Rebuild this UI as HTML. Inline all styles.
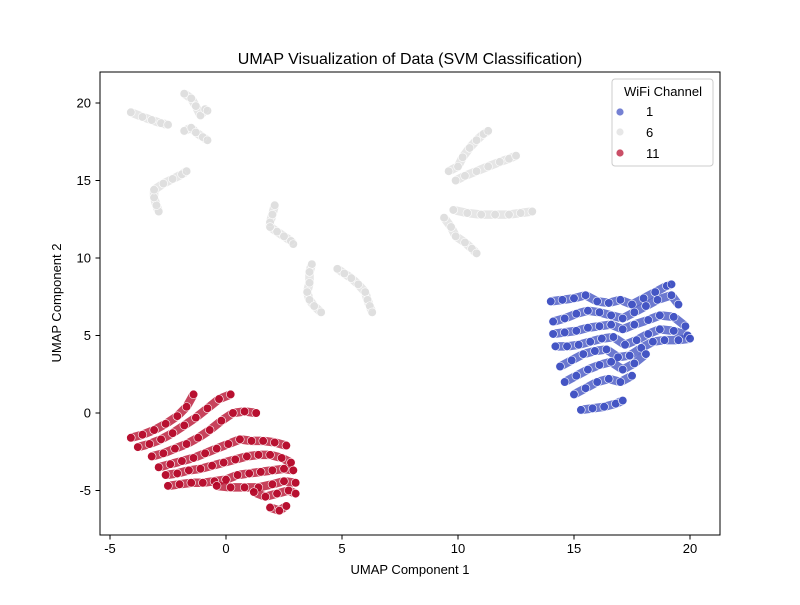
<!DOCTYPE html>
<html><head><meta charset="utf-8"><style>
body{margin:0;background:#fff;}
svg{font-family:"Liberation Sans","DejaVu Sans",sans-serif;}
</style></head><body>
<svg id="chart" width="800" height="600" viewBox="0 0 800 600">
<rect width="800" height="600" fill="#fff"/>
<g id="marks"></g>
<rect x="100" y="72" width="620" height="463" fill="none" stroke="#000" stroke-width="1"/>
<g id="axes"></g>
<text x="410" y="64" text-anchor="middle" font-size="16">UMAP Visualization of Data (SVM Classification)</text>
<text x="410" y="574" text-anchor="middle" font-size="13">UMAP Component 1</text>
<text x="61" y="303" text-anchor="middle" font-size="13" transform="rotate(-90 61 303)">UMAP Component 2</text>
<g>
<rect x="612" y="79" width="101" height="87" rx="3" fill="#fff" fill-opacity="0.8" stroke="#ccc"/>
<text x="663" y="96" text-anchor="middle" font-size="13">WiFi Channel</text>
<g><circle cx="620" cy="112" r="4" fill="#3b4cc0" fill-opacity="0.7" stroke="#fff" stroke-width="0.8"/><text x="646" y="116" font-size="13">1</text></g>
<g><circle cx="620" cy="132" r="4" fill="#dddddd" fill-opacity="0.7" stroke="#fff" stroke-width="0.8"/><text x="646" y="137" font-size="13">6</text></g>
<g><circle cx="620" cy="153" r="4" fill="#b40426" fill-opacity="0.7" stroke="#fff" stroke-width="0.8"/><text x="646" y="158" font-size="13">11</text></g>
</g>
</svg>
<script>
const xTicks=[-5,0,5,10,15,20];
const yTicks=[-5,0,5,10,15,20];
const grayStrands=[
[[-4.1,19.4],[-3.6,19.1],[-3.2,18.9],[-2.8,18.7],[-2.5,18.6]],
[[-1.8,20.6],[-1.5,20.3],[-1.3,19.8],[-1.1,19.2],[-0.9,19.6],[-0.8,19.5]],
[[-1.8,18.2],[-1.5,18.4],[-1.3,18.1],[-1.0,17.8],[-0.8,17.6]],
[[-2.9,13.0],[-3.0,13.4],[-3.1,13.9],[-3.1,14.4],[-2.7,14.8],[-2.3,15.1],[-1.9,15.4],[-1.7,15.6]],
[[2.1,13.4],[2.0,12.8],[1.9,12.3],[1.9,12.0],[2.2,11.7],[2.5,11.4],[2.8,11.1],[2.9,10.9]],
[[3.7,9.6],[3.6,9.1],[3.6,8.4],[3.5,7.8],[3.6,7.3],[3.8,6.9],[4.1,6.5]],
[[4.8,9.3],[5.1,9.0],[5.4,8.7],[5.7,8.3],[6.0,7.8],[6.1,7.3],[6.2,6.9],[6.3,6.5]],
[[9.6,15.6],[10.0,15.9],[10.2,16.5],[10.5,17.1],[10.8,17.6],[11.1,18.0],[11.3,18.2]],
[[9.9,15.0],[10.3,15.3],[10.8,15.6],[11.3,15.9],[11.8,16.2],[12.2,16.4],[12.5,16.6]],
[[9.8,13.1],[10.4,12.9],[11.0,12.8],[11.6,12.8],[12.2,12.8],[12.7,12.9],[13.2,13.0]],
[[9.4,12.6],[9.7,12.0],[9.9,11.4],[10.3,11.0],[10.6,10.6],[10.8,10.3]]
];
const blueStrands=[
[[14,7.2],[14.5,7.3],[15,7.4],[15.5,7.6],[16,7.2],[16.5,7.1],[17,7.3],[17.5,7.0],[18,7.4],[18.5,7.8],[19,8.2],[19.2,8.3]],
[[14.1,5.9],[14.6,6.1],[15.1,6.4],[15.6,6.6],[16.1,6.5],[16.6,6.3],[17.1,6.1],[17.6,6.5],[18.1,6.9],[18.6,7.3],[19.2,7.6],[19.5,7.0]],
[[14.1,5.1],[14.6,5.2],[15.1,5.3],[15.6,5.5],[16.1,5.6],[16.6,5.7],[17.1,5.4],[17.6,5.7],[18.2,6.0],[18.7,6.3],[19.3,6.2],[19.8,5.6]],
[[14.2,4.3],[14.7,4.3],[15.2,4.4],[15.7,4.6],[16.2,4.8],[16.7,4.9],[17.2,4.4],[17.7,4.7],[18.2,5.1],[18.7,5.4],[19.3,5.3],[19.9,5.0]],
[[14.4,3.0],[14.9,3.4],[15.4,3.8],[15.9,4.0],[16.4,4.1],[16.9,3.6],[17.4,3.7],[17.9,4.2],[18.4,4.6],[18.9,4.7],[19.5,4.7],[20,4.8]],
[[14.6,2.0],[15.1,2.4],[15.6,2.8],[16.1,3.1],[16.6,3.3],[17.1,2.8],[17.6,3.2],[18.1,3.8]],
[[15,1.2],[15.5,1.6],[16,2.0],[16.5,2.2],[17,2.0],[17.5,2.4]],
[[15.3,0.2],[15.8,0.3],[16.3,0.4],[16.8,0.6],[17.1,0.8]]
];
const redStrands=[
[[-4.1,-1.6],[-3.6,-1.4],[-3.1,-1.1],[-2.6,-0.7],[-2.1,-0.2],[-1.7,0.4],[-1.4,1.2]],
[[-3.8,-2.2],[-3.3,-2.0],[-2.8,-1.7],[-2.3,-1.3],[-1.8,-0.8],[-1.3,-0.3],[-0.8,0.3],[-0.3,0.9],[0.2,1.2]],
[[-3.2,-2.8],[-2.7,-2.6],[-2.2,-2.3],[-1.7,-2.0],[-1.2,-1.6],[-0.7,-1.1],[-0.2,-0.5],[0.3,0.0],[0.8,0.1],[1.3,0.0]],
[[-2.9,-3.5],[-2.4,-3.3],[-1.9,-3.1],[-1.4,-2.9],[-0.9,-2.6],[-0.4,-2.3],[0.1,-2.0],[0.6,-1.7],[1.1,-1.8],[1.6,-1.8],[2.1,-1.9],[2.6,-2.1]],
[[-2.6,-4.0],[-2.1,-3.9],[-1.6,-3.7],[-1.1,-3.6],[-0.6,-3.4],[-0.1,-3.2],[0.4,-3.0],[0.9,-2.8],[1.4,-2.7],[1.9,-2.7],[2.4,-2.9],[2.8,-3.2]],
[[-2.5,-4.7],[-2.0,-4.6],[-1.5,-4.5],[-1.0,-4.5],[-0.5,-4.4],[0.0,-4.3],[0.5,-4.0],[1.0,-3.9],[1.5,-3.8],[2.0,-3.7],[2.5,-3.6],[2.9,-3.7]],
[[-0.4,-4.7],[0.2,-4.8],[0.8,-4.8],[1.4,-4.8],[2.0,-4.6],[2.5,-4.4],[3.0,-4.5]],
[[1.2,-5.1],[1.7,-5.4],[2.2,-5.2],[2.7,-5.0],[3.0,-5.2]],
[[1.9,-6.1],[2.3,-6.3],[2.6,-6.0]]
];
const NS="http://www.w3.org/2000/svg";
const xs=v=>226+(v-0)*23.2;
const ys=v=>413-(v-0)*15.5;
const marks=document.getElementById('marks');
const axes=document.getElementById('axes');
function mk(t,a,p){const e=document.createElementNS(NS,t);for(const k in a)e.setAttribute(k,a[k]);p.appendChild(e);return e;}
function drawGroup(strands,color,name){
  const g=mk('g',{},marks);
  
  
  strands.forEach(s=>{
    const d=s.map((p,i)=>(i?'L':'M')+xs(p[0]).toFixed(1)+' '+ys(p[1]).toFixed(1)).join(' ');
    const pl=mk('path',{d:d,fill:'none',stroke:color,'stroke-opacity':0.75,'stroke-width':8.5,'stroke-linecap':'round','stroke-linejoin':'round'},g);
    
    
    s.forEach(p=>{
      const c=mk('circle',{cx:xs(p[0]),cy:ys(p[1]),r:4.3,fill:color,'fill-opacity':0.8,stroke:'#fff','stroke-width':0.6},g);
      
      
    });
  });
}
drawGroup(grayStrands,'#dddddd','channel-6');
drawGroup(blueStrands,'#3b4cc0','channel-1');
drawGroup(redStrands,'#b40426','channel-11');
xTicks.forEach(v=>{
  const x=xs(v);
  const l=mk('line',{x1:x,x2:x,y1:535,y2:539.5,stroke:'#000'},axes);
  
  
  const t=mk('text',{x:x,y:553,'text-anchor':'middle','font-size':13},axes);
  t.textContent=v;
  
  
});
yTicks.forEach(v=>{
  const y=ys(v);
  const l=mk('line',{x1:95.5,x2:100,y1:y,y2:y,stroke:'#000'},axes);
  
  
  const t=mk('text',{x:91,y:y+4.5,'text-anchor':'end','font-size':13},axes);
  t.textContent=v;
  
  
});
</script>
</body></html>
